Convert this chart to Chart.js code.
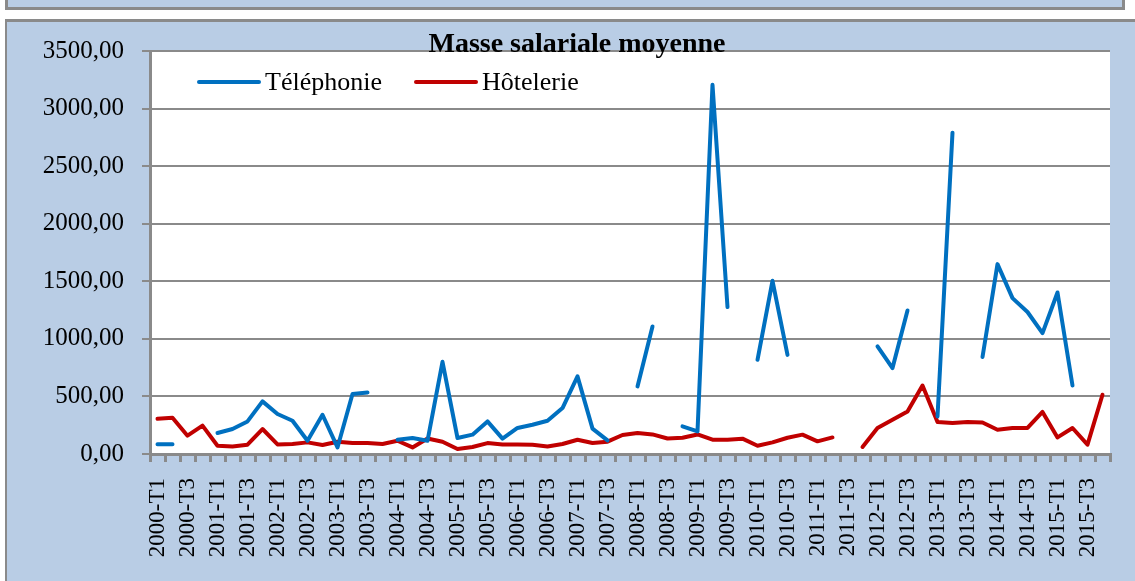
<!DOCTYPE html>
<html>
<head>
<meta charset="utf-8">
<script src="https://cdn.jsdelivr.net/npm/chart.js@4"></script>
<style>
  html, body { margin: 0; padding: 0; background: #fff; }
  body { width: 1135px; height: 581px; position: relative; overflow: hidden; }
  #strip { position: absolute; left: 5px; top: -3px; width: 1114px; height: 7px; background: #B9CDE5; border: 3px solid #8a8a8a; }
  #frame { position: absolute; left: 5px; top: 19px; width: 1140px; height: 570px; background: #B9CDE5; border-left: 2px solid #8a8a8a; border-top: 3px solid #8a8a8a; }
  #wrap { position: absolute; left: 0; top: 0; width: 1135px; height: 581px; }
</style>
</head>
<body>
<div id="strip"></div>
<div id="frame"></div>
<div id="wrap"><canvas id="myChart"></canvas></div>
<script>
// catégories : trimestres 2000-T1 .. 2015-T4
const annees = ['2000','2001','2002','2003','2004','2005','2006','2007',
                '2008','2009','2010','2011','2012','2013','2014','2015'];
const trimestres = ['T1','T2','T3','T4'];
const categories = [];
annees.forEach( a => trimestres.forEach( t => categories.push( a + '-' + t ) ) );

// valeurs (null = pas de donnée)
const telephonie = [
    85, 85, null, null, 182, 217, 283, 457,
    347, 289, 115, 341, 57, 521, 535, null,
    124, 139, 115, 801, 139, 168, 283, 133,
    226, 254, 289, 399, 674, 220, 118, null,
    587, 1108, null, 240, 196, 3206, 1276, null,
    818, 1504, 861, null, null, null, null, null,
    934, 746, 1246, null, 326, 2791, null, 842,
    1649, 1354, 1233, 1050, 1403, 595, null, null
];
const hotelerie = [
    306, 315, 159, 246, 72, 66, 81, 217,
    83, 87, 101, 78, 107, 95, 95, 87,
    115, 57, 135, 107, 43, 61, 95, 83,
    83, 81, 66, 87, 124, 95, 107, 165,
    182, 170, 135, 141, 170, 124, 124, 133,
    72, 101, 141, 168, 110, 144, null, 61,
    226, 298, 370, 595, 278, 269, 278, 274,
    211, 226, 226, 365, 144, 226, 81, 515
];
const yTicks = [0, 500, 1000, 1500, 2000, 2500, 3000, 3500];

const titre = 'Masse salariale moyenne';
const gris = '#8a8a8a';
const police = 'Liberation Serif';

// fond blanc de la zone de tracé + titre + légende dans le graphique
const decor = {
    id: 'decor',
    beforeDraw( chart ) {
        const { ctx, chartArea: a } = chart;
        ctx.save();
        ctx.fillStyle = '#fff';
        ctx.fillRect( a.left, a.top, a.right - a.left, a.bottom - a.top );
        ctx.restore();
    },
    afterDraw( chart ) {
        const { ctx, chartArea: a } = chart;
        ctx.save();
        ctx.fillStyle = '#000';
        ctx.font = 'bold 28px "' + police + '"';
        ctx.textAlign = 'center';
        ctx.textBaseline = 'alphabetic';
        ctx.fillText( titre, 577, 52 );

        // légende
        const pos = [ 49, 266 ];
        ctx.font = '26px "' + police + '"';
        ctx.textAlign = 'left';
        ctx.textBaseline = 'middle';
        chart.data.datasets.forEach( ( ds, i ) => {
            const x = a.left + pos[i];
            const y = 82;
            ctx.strokeStyle = ds.borderColor;
            ctx.lineWidth = 4;
            ctx.lineCap = 'round';
            ctx.beginPath();
            ctx.moveTo( x, y );
            ctx.lineTo( x + 60, y );
            ctx.stroke();
            ctx.fillStyle = '#000';
            ctx.fillText( ds.label, x + 66, y + 1 );
        });
        ctx.restore();
    }
};

const ctx = document.getElementById( 'myChart' ).getContext( '2d' );
new Chart( ctx, {
    type: 'line',
    data: {
        labels: categories,
        datasets: [{
            label: 'Téléphonie',
            data: telephonie,
            borderColor: '#0070C0',
            borderWidth: 4
        }, {
            label: 'Hôtelerie',
            data: hotelerie,
            borderColor: '#C00000',
            borderWidth: 4
        }]
    },
    options: {
        responsive: true,
        maintainAspectRatio: false,
        animation: false,
        layout: { padding: { top: 51, right: 25, left: 0, bottom: 0 } },
        elements: {
            point: { radius: 0 },
            line: { tension: 0, borderCapStyle: 'round', borderJoinStyle: 'round' }
        },
        plugins: {
            legend: { display: false },
            title: { display: false },
            tooltip: { enabled: false }
        },
        scales: {
            x: {
                offset: true,
                afterFit: s => { s.height = 127; s.paddingLeft = 0; s.paddingRight = 0; },
                grid: { offset: true, drawOnChartArea: false, drawTicks: true, tickLength: 8, color: gris, lineWidth: 3 },
                border: { color: gris, width: 3 },
                ticks: {
                    autoSkip: false,
                    maxRotation: 90,
                    minRotation: 90,
                    padding: 16,
                    color: '#000',
                    font: { family: police, size: 23 },
                    callback: ( v, i ) => i % 2 === 0 ? categories[i] : ''
                }
            },
            y: {
                min: yTicks[0],
                max: yTicks[yTicks.length - 1],
                afterFit: s => { s.width = 150; s.paddingTop = 0; s.paddingBottom = 0; },
                afterBuildTicks: s => { s.ticks = yTicks.map( v => ({ value: v }) ); },
                grid: { color: gris, lineWidth: 2, tickLength: 8 },
                border: { color: gris, width: 3 },
                ticks: {
                    padding: 18,
                    color: '#000',
                    font: { family: police, size: 25 },
                    callback: v => v.toFixed( 2 ).replace( '.', ',' )
                }
            }
        }
    },
    plugins: [ decor ]
});
</script>
</body>
</html>
